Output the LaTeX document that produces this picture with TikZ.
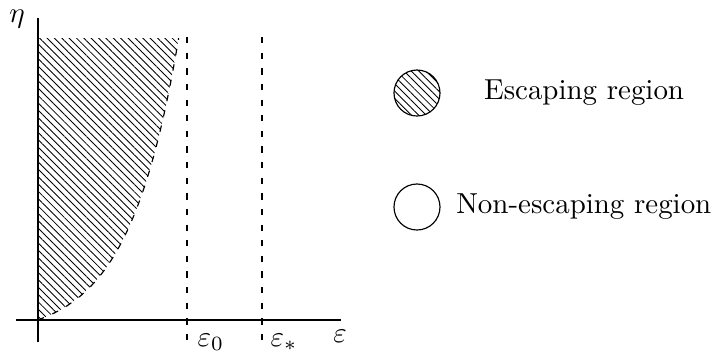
\documentclass[tikz,border=0pt]{standalone}
\usepackage{amsmath,amssymb}
\usepackage{tikz}
\usetikzlibrary{patterns.meta,positioning}

\begin{document}
\begin{tikzpicture}[
    x=0.3456pt, y=0.3456pt,
    axis/.style={line width=0.5pt},
    vline/.style={line width=0.4pt, dash pattern=on 2.2pt off 3.2pt},
    hatch/.style={pattern={Lines[angle=-45, distance=1.8pt, line width=0.3pt]}},
    legcircle/.style={circle, draw, line width=0.4pt, minimum size=15.9pt, inner sep=0pt}
]
\useasboundingbox (0,0) rectangle (712,352);
% escaping region
\fill[hatch] (38,32) -- plot[domain=0:282, samples=60] ({38+50*ln(\x/18+1)}, {32+\x}) -- (38,314) -- cycle;
\draw[vline] plot[domain=0:282, samples=60] ({38+50*ln(\x/18+1)}, {32+\x});
% axes
\coordinate (O) at (38,32);
\draw[axis] (16,32) coordinate (xstart) -- (341,32) coordinate (xend);
\draw[axis] (38,10) coordinate (ystart) -- (38,334) coordinate (yend);
\node[anchor=base] (etalab) at (17,330) {$\eta$};
\node[anchor=base] (epslab) at (340,10) {$\varepsilon$};
% critical values
\draw[vline] (187,315) coordinate (e0top) -- (187,9) coordinate (e0bot);
\draw[vline] (262,315) coordinate (estop) -- (262,9) coordinate (esbot);
\node[anchor=base west, inner sep=0pt] (e0lab) at (197,6) {$\varepsilon_0$};
\node[anchor=base west, inner sep=0pt] (eslab) at (270,6) {$\varepsilon_*$};
% legend
\node[legcircle, hatch] (esccirc) at (417,259) {};
\node[legcircle] (noesccirc) at (417,145) {};
\node[right=11.5pt of esccirc] (esclab) {Escaping region};
\node[right=1.9pt of noesccirc] (noesclab) {Non-escaping region};
\end{tikzpicture}
\end{document}
